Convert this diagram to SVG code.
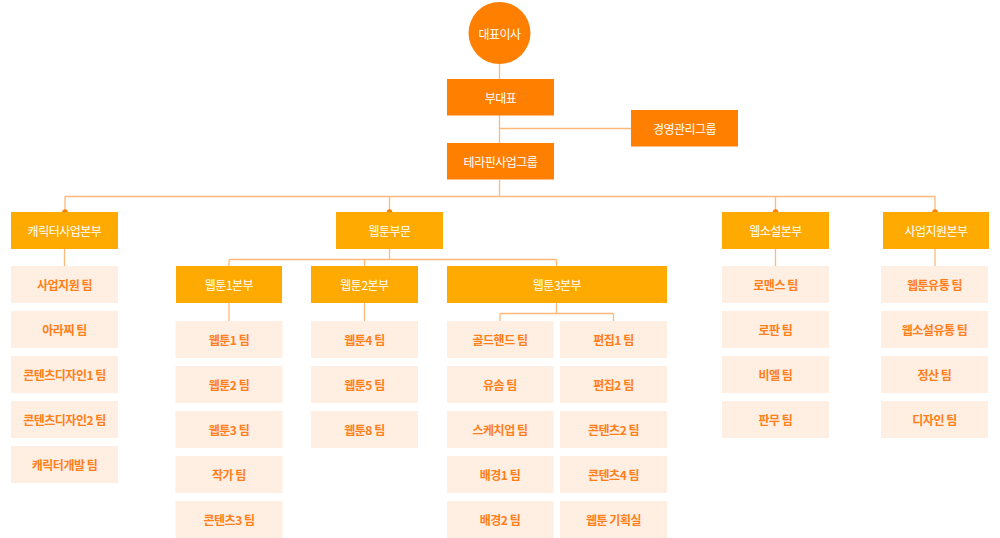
<svg xmlns="http://www.w3.org/2000/svg" width="1000" height="538" viewBox="0 0 1000 538">
<style>
.top{fill:#FF7F00}
.mid{fill:#FFAA00}
.team{fill:#FFEEE2}
.tw{fill:#FFFFFF;font-family:"Noto Sans CJK KR","Noto Sans",sans-serif;font-size:12px;letter-spacing:-0.5px;text-anchor:middle;dominant-baseline:central}
.tt{fill:#FF7F1A;font-family:"Noto Sans CJK KR","Noto Sans",sans-serif;font-size:12px;letter-spacing:-0.5px;font-weight:bold;text-anchor:middle;dominant-baseline:central}
.ln{stroke:#FFB87A;stroke-width:1.3;fill:none}
.dot{fill:#FF7F00}
</style>
<rect width="1000" height="538" fill="#FFFFFF"/>
<g id="connectors">
<path class="ln" d="M499.5 64V79M499.5 115V143M499.5 128.5H631M499.5 180V196.5M65 196.5H935M65 196.5V212M389.5 196.5V212M775.5 196.5V212M935 196.5V212"/>
<path class="ln" d="M64.5 249V266M389.5 249V259.5M229 259.5H556.5M229 259.5V266M364.5 259.5V266M556.5 259.5V266"/>
<path class="ln" d="M229 303V321M364.5 303V321M556.5 303V313.5M500 313.5H613.5M500 313.5V321M613.5 313.5V321"/>
<path class="ln" d="M775.5 249V266M935 249V266"/>
<circle class="dot" cx="65" cy="212" r="2.8"/>
<circle class="dot" cx="389.5" cy="212" r="2.8"/>
<circle class="dot" cx="775.5" cy="212" r="2.8"/>
<circle class="dot" cx="935" cy="212" r="2.8"/>
</g>
<g id="ceo"><circle class="top" cx="499.5" cy="33" r="31"/><text class="tw" x="499.5" y="33">대표이사</text></g>
<g id="vice"><rect class="top" x="447" y="79" width="107" height="36.5"/><text class="tw" x="500.5" y="97">부대표</text></g>
<g id="mgmt"><rect class="top" x="631" y="110" width="107" height="36.5"/><text class="tw" x="684.5" y="128">경영관리그룹</text></g>
<g id="terapin"><rect class="top" x="447" y="143" width="107" height="36.5"/><text class="tw" x="500.5" y="161">테라핀사업그룹</text></g>

<g id="character"><rect class="mid" x="11" y="212" width="107" height="37"/><text class="tw" x="64.5" y="230.5">캐릭터사업본부</text></g>
<g id="webtoon"><rect class="mid" x="336" y="212" width="107" height="37"/><text class="tw" x="389.5" y="230.5">웹툰부문</text></g>
<g id="webnovel"><rect class="mid" x="722" y="212" width="107" height="37"/><text class="tw" x="775.5" y="230.5">웹소설본부</text></g>
<g id="support"><rect class="mid" x="883" y="212" width="106" height="37"/><text class="tw" x="936" y="230.5">사업지원본부</text></g>

<g id="wt1"><rect class="mid" x="176" y="266" width="106" height="37"/><text class="tw" x="229" y="284.5">웹툰1본부</text></g>
<g id="wt2"><rect class="mid" x="311" y="266" width="107" height="37"/><text class="tw" x="364.5" y="284.5">웹툰2본부</text></g>
<g id="wt3"><rect class="mid" x="447" y="266" width="220" height="37"/><text class="tw" x="557" y="284.5">웹툰3본부</text></g>

<g id="c1"><rect class="team" x="11" y="266" width="107" height="37"/><text class="tt" x="64.5" y="284.5">사업지원 팀</text></g>
<g id="c2"><rect class="team" x="11" y="311" width="107" height="37"/><text class="tt" x="64.5" y="329.5">아라찌 팀</text></g>
<g id="c3"><rect class="team" x="11" y="356" width="107" height="37"/><text class="tt" x="64.5" y="374.5">콘텐츠디자인1 팀</text></g>
<g id="c4"><rect class="team" x="11" y="401" width="107" height="37"/><text class="tt" x="64.5" y="419.5">콘텐츠디자인2 팀</text></g>
<g id="c5"><rect class="team" x="11" y="446" width="107" height="37"/><text class="tt" x="64.5" y="464.5">캐릭터개발 팀</text></g>

<g id="w1a"><rect class="team" x="175.5" y="321" width="107" height="37"/><text class="tt" x="229" y="339.5">웹툰1 팀</text></g>
<g id="w1b"><rect class="team" x="175.5" y="366" width="107" height="37"/><text class="tt" x="229" y="384.5">웹툰2 팀</text></g>
<g id="w1c"><rect class="team" x="175.5" y="411" width="107" height="37"/><text class="tt" x="229" y="429.5">웹툰3 팀</text></g>
<g id="w1d"><rect class="team" x="175.5" y="456" width="107" height="37"/><text class="tt" x="229" y="474.5">작가 팀</text></g>
<g id="w1e"><rect class="team" x="175.5" y="501" width="107" height="37"/><text class="tt" x="229" y="519.5">콘텐츠3 팀</text></g>

<g id="w2a"><rect class="team" x="311" y="321" width="107" height="37"/><text class="tt" x="364.5" y="339.5">웹툰4 팀</text></g>
<g id="w2b"><rect class="team" x="311" y="366" width="107" height="37"/><text class="tt" x="364.5" y="384.5">웹툰5 팀</text></g>
<g id="w2c"><rect class="team" x="311" y="411" width="107" height="37"/><text class="tt" x="364.5" y="429.5">웹툰8 팀</text></g>

<g id="w3a"><rect class="team" x="447" y="321" width="106.5" height="37"/><text class="tt" x="500" y="339.5">골드핸드 팀</text></g>
<g id="w3b"><rect class="team" x="447" y="366" width="106.5" height="37"/><text class="tt" x="500" y="384.5">유솜 팀</text></g>
<g id="w3c"><rect class="team" x="447" y="411" width="106.5" height="37"/><text class="tt" x="500" y="429.5">스케치업 팀</text></g>
<g id="w3d"><rect class="team" x="447" y="456" width="106.5" height="37"/><text class="tt" x="500" y="474.5">배경1 팀</text></g>
<g id="w3e"><rect class="team" x="447" y="501" width="106.5" height="37"/><text class="tt" x="500" y="519.5">배경2 팀</text></g>
<g id="w3f"><rect class="team" x="560" y="321" width="107" height="37"/><text class="tt" x="613.5" y="339.5">편집1 팀</text></g>
<g id="w3g"><rect class="team" x="560" y="366" width="107" height="37"/><text class="tt" x="613.5" y="384.5">편집2 팀</text></g>
<g id="w3h"><rect class="team" x="560" y="411" width="107" height="37"/><text class="tt" x="613.5" y="429.5">콘텐츠2 팀</text></g>
<g id="w3i"><rect class="team" x="560" y="456" width="107" height="37"/><text class="tt" x="613.5" y="474.5">콘텐츠4 팀</text></g>
<g id="w3j"><rect class="team" x="560" y="501" width="107" height="37"/><text class="tt" x="613.5" y="519.5">웹툰 기획실</text></g>

<g id="n1"><rect class="team" x="722" y="266" width="107" height="37"/><text class="tt" x="775.5" y="284.5">로맨스 팀</text></g>
<g id="n2"><rect class="team" x="722" y="311" width="107" height="37"/><text class="tt" x="775.5" y="329.5">로판 팀</text></g>
<g id="n3"><rect class="team" x="722" y="356" width="107" height="37"/><text class="tt" x="775.5" y="374.5">비엘 팀</text></g>
<g id="n4"><rect class="team" x="722" y="401" width="107" height="37"/><text class="tt" x="775.5" y="419.5">판무 팀</text></g>

<g id="s1"><rect class="team" x="881" y="266" width="107" height="37"/><text class="tt" x="934.5" y="284.5">웹툰유통 팀</text></g>
<g id="s2"><rect class="team" x="881" y="311" width="107" height="37"/><text class="tt" x="934.5" y="329.5">웹소설유통 팀</text></g>
<g id="s3"><rect class="team" x="881" y="356" width="107" height="37"/><text class="tt" x="934.5" y="374.5">정산 팀</text></g>
<g id="s4"><rect class="team" x="881" y="401" width="107" height="37"/><text class="tt" x="934.5" y="419.5">디자인 팀</text></g>
</svg>
